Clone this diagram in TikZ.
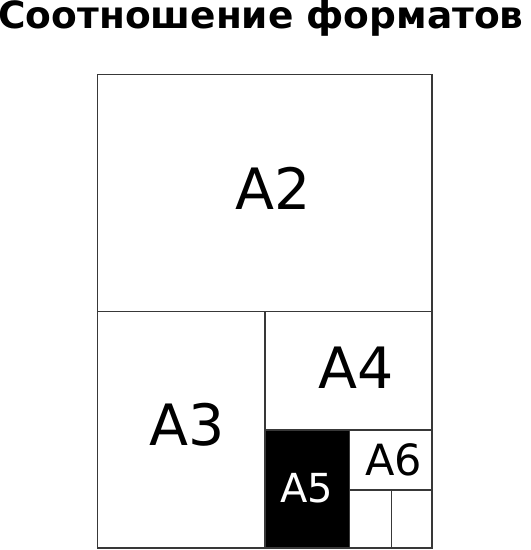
\documentclass[tikz,border=0pt]{standalone}
\usepackage{fontspec}
\setmainfont{DejaVu Sans}
\begin{document}
\begin{tikzpicture}[x=1pt,y=-1pt,
  frame/.style={draw=black!78,line width=1.5pt},
  lbl/.style={inner sep=0pt,anchor=base,font=\fontsize{57}{60}\selectfont},
  lblsmall/.style={inner sep=0pt,anchor=base,font=\fontsize{43}{46}\selectfont}]
\useasboundingbox (0,0) rectangle (531,550);
% A5 filled
\fill[black] (265,430) rectangle (349.3,548);
% outer frame and divisions
\draw[frame] (97.5,74.5) rectangle (432,548);
\draw[frame] (97.5,311.7) -- (432,311.7);
\draw[frame] (265,311.7) -- (265,548);
\draw[frame] (265,430) -- (432,430);
\draw[frame] (349.3,430) -- (349.3,548);
\draw[frame] (349.3,490) -- (432,490);
\draw[frame] (391.3,490) -- (391.3,548);
% title
\node[inner sep=0pt,anchor=base,font=\fontsize{37.5}{40}\selectfont\bfseries] (title) at (261,28.5) {Соотношение форматов};
% labels
\node[lbl] (a2) at (273,209) {A2};
\node[lbl] (a3) at (187,445) {A3};
\node[lbl] (a4) at (356,388.3) {A4};
\node[lblsmall,text=white,font=\fontsize{40}{43}\selectfont] (a5) at (306.5,502.3) {A5};
\node[lblsmall] (a6) at (393.5,475) {A6};
\end{tikzpicture}
\end{document}
